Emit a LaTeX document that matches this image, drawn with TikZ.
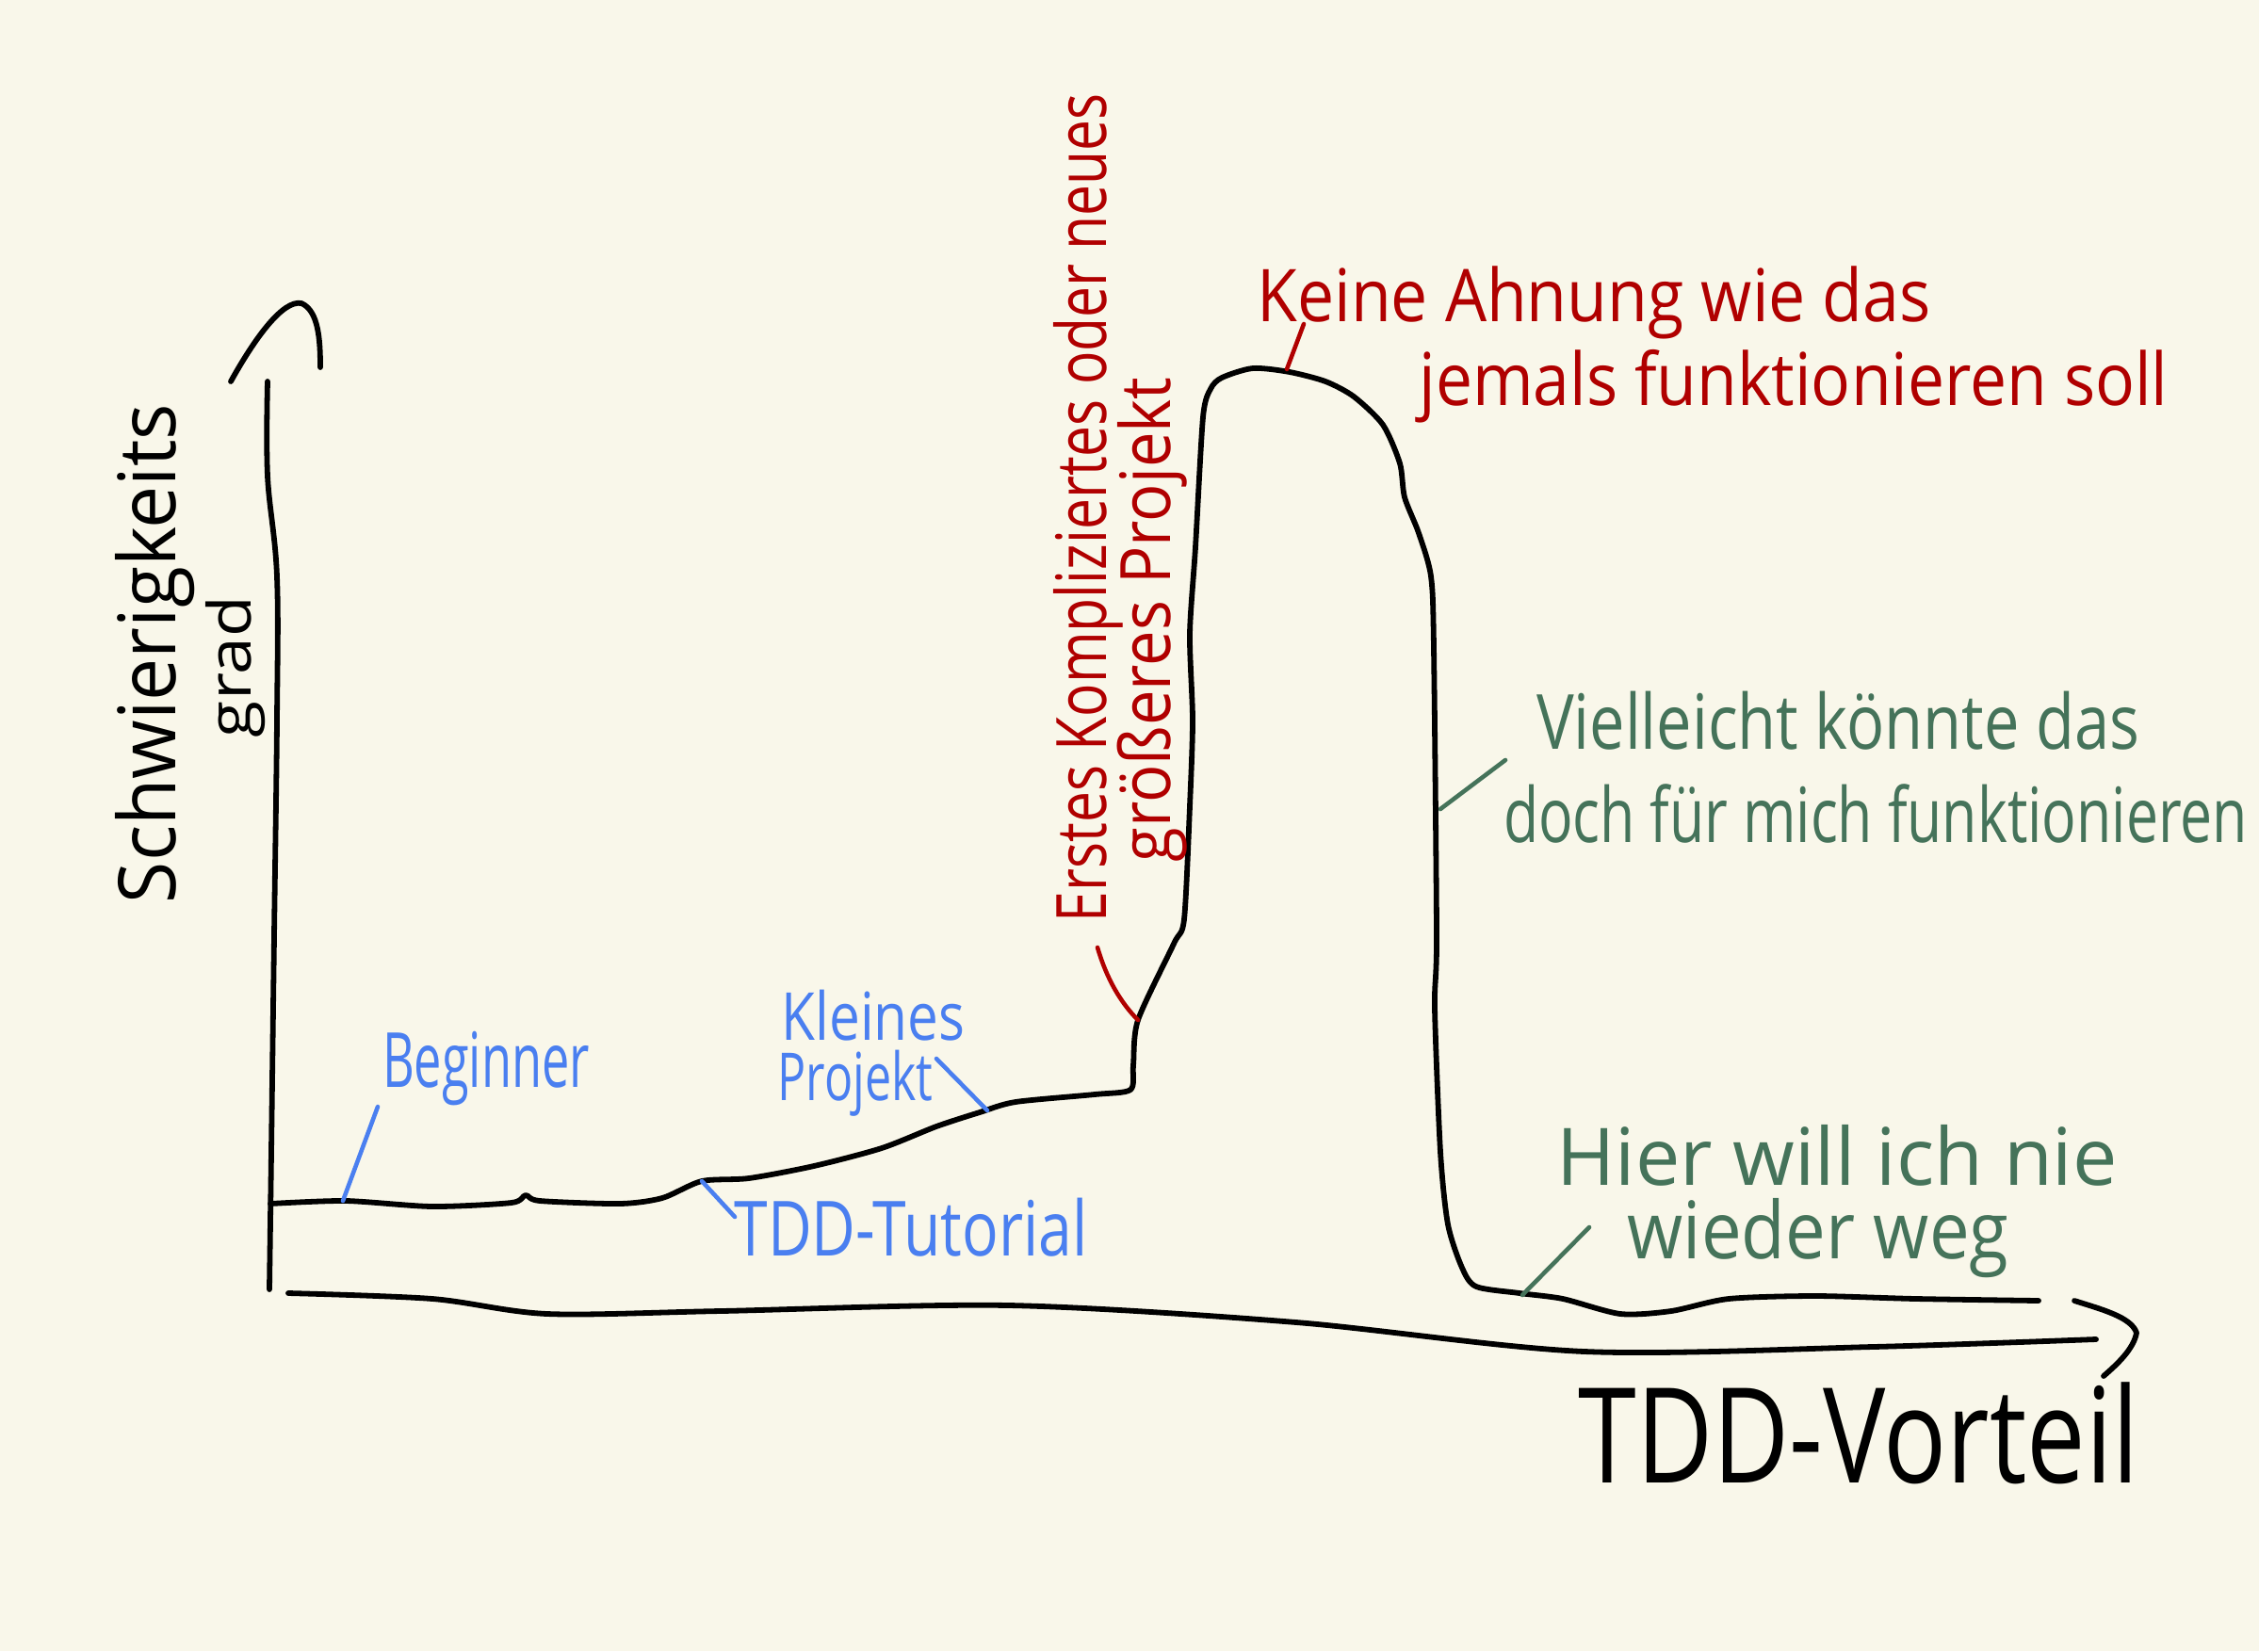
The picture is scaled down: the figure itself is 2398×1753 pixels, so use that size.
\documentclass[tikz,border=0pt]{standalone}
\usepackage{fontspec}
\setmainfont{Open Sans}
\usepackage{graphicx}
\definecolor{bg}{HTML}{F9F7EA}
\definecolor{hred}{HTML}{B00000}
\definecolor{hblue}{HTML}{4A7FF0}
\definecolor{hgreen}{HTML}{45735A}
\newcommand{\fitw}[2]{\resizebox{#1}{\height}{#2}}
\newcommand{\fsz}[1]{\fontsize{#1pt}{#1pt}\selectfont}
\begin{document}
\begin{tikzpicture}[x=0.2mm,y=-0.2mm,
  ink/.style={line width=3.3pt, line cap=round, line join=round},
  pointer/.style={line width=2.6pt, line cap=round},
  lbl/.style={inner sep=0pt, outer sep=0pt}]
\fill[bg] (0,0) rectangle (2398,1753);
\useasboundingbox (0,0) rectangle (2398,1753);

% y axis
\draw[ink] plot[smooth, tension=0.6] coordinates {(286,1369) (288,1223) (291,994) (294,765) (294,612) (284,505) (284,405)};
\draw[ink] (245,405) .. controls (270,360) and (300,318) .. (320,322) .. controls (338,330) and (340,360) .. (340,390);
% x axis
\draw[ink] plot[smooth, tension=0.5] coordinates {(306,1373) (459,1379) (581,1395) (765,1392) (1071,1386) (1376,1404) (1682,1435) (1988,1430) (2225,1422)};
\draw[ink] (2202,1381) .. controls (2230,1390) and (2262,1398) .. (2268,1415) .. controls (2265,1432) and (2248,1448) .. (2233,1461);

% main curve
\draw[ink] plot[smooth, tension=0.45] coordinates {
(287,1278) (367,1275) (459,1281) (543,1277) (558,1269) (573,1275) (658,1278) (703,1272) (745,1254)
(795,1251) (864,1238) (936,1219) (994,1196) (1040,1181) (1078,1170) (1162,1162) (1200,1157)
(1203,1131) (1208,1083) (1246,1002) (1257,976) (1263,856) (1266,765) (1263,673) (1269,581)
(1277,443) (1285,413) (1297,401) (1330,391) (1369,395) (1407,405) (1437,421) (1468,451)
(1486,492) (1491,528) (1506,566) (1519,612) (1522,688) (1525,994) (1523,1070) (1529,1223)
(1537,1300) (1552,1346) (1567,1366) (1613,1373) (1659,1379) (1720,1395) (1774,1392)
(1835,1379) (1927,1376) (2034,1379) (2164,1381)};

% label anchors on curve
\coordinate (cBeg) at (364,1275);
\coordinate (cTut) at (745,1254);
\coordinate (cKlein) at (1048,1179);
\coordinate (cErst) at (1208,1083);
\coordinate (cKeine) at (1366,392);
\coordinate (cViel) at (1529,859);
\coordinate (cHier) at (1616,1375);

% axis labels
\node[lbl, rotate=90] (ylab1) at (165,694) {\fsz{48}\fitw{106mm}{Schwierigkeits}};
\node[lbl, rotate=90] (ylab2) at (250,708) {\fsz{36}\fitw{30mm}{grad}};
\node[lbl] (xlab) at (1973,1522) {\fsz{80}\fitw{119mm}{TDD-Vorteil}};

% blue labels
\node[lbl, text=hblue] (beg) at (516,1135) {\fsz{46}\fitw{44mm}{Beginner}};
\node[lbl, text=hblue] (klein1) at (927,1078) {\fsz{40}\fitw{39mm}{Kleines}};
\node[lbl, text=hblue] (klein2) at (908,1150) {\fsz{40}\fitw{33mm}{Projekt}};
\node[lbl, text=hblue] (tut) at (967,1303) {\fsz{46}\fitw{75mm}{TDD-Tutorial}};
\coordinate (pBeg) at (401,1175);
\coordinate (pKlein) at (994,1124);
\coordinate (pTut) at (780,1292);
\draw[pointer, hblue] (pBeg) -- (cBeg);
\draw[pointer, hblue] (pKlein) -- (cKlein);
\draw[pointer, hblue] (pTut) -- (cTut);

% red labels
\node[lbl, text=hred, rotate=90] (erst1) at (1155,539) {\fsz{42}\fitw{176mm}{Erstes Kompliziertes oder neues}};
\node[lbl, text=hred, rotate=90] (erst2) at (1223,658) {\fsz{42}\fitw{103mm}{größeres Projekt}};
\node[lbl, text=hred] (keine1) at (1692,321) {\fsz{44}\fitw{143mm}{Keine Ahnung wie das}};
\node[lbl, text=hred] (keine2) at (1904,410) {\fsz{44}\fitw{159mm}{jemals funktionieren soll}};
\coordinate (pErst) at (1165,1006);
\coordinate (pKeine) at (1384,344);
\draw[pointer, hred] (pErst) .. controls (1175,1040) and (1190,1065) .. (cErst);
\draw[pointer, hred] (pKeine) -- (cKeine);

% green labels
\node[lbl, text=hgreen] (viel1) at (1951,765) {\fsz{46}\fitw{128mm}{Vielleicht könnte das}};
\node[lbl, text=hgreen] (viel2) at (1991,864) {\fsz{46}\fitw{158mm}{doch für mich funktionieren}};
\node[lbl, text=hgreen] (hier1) at (1950,1227) {\fsz{48}\fitw{119mm}{Hier will ich nie}};
\node[lbl, text=hgreen] (hier2) at (1930,1315) {\fsz{48}\fitw{81mm}{wieder weg}};
\coordinate (pViel) at (1598,807);
\coordinate (pHier) at (1687,1303);
\draw[pointer, hgreen] (pViel) -- (cViel);
\draw[pointer, hgreen] (pHier) -- (cHier);
\end{tikzpicture}
\end{document}
